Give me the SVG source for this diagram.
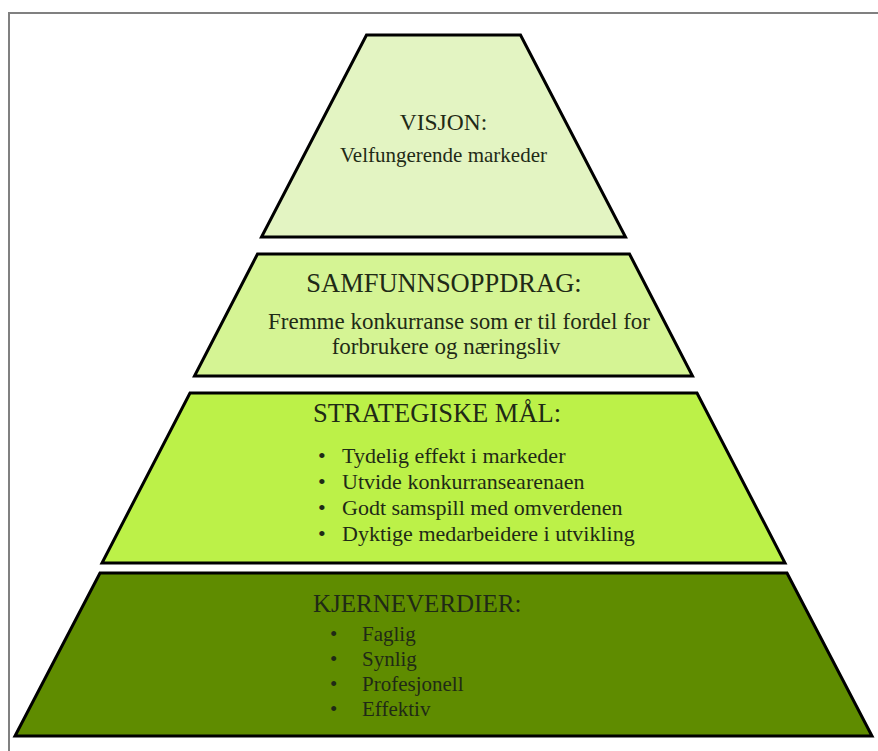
<svg xmlns="http://www.w3.org/2000/svg" width="878" height="751" viewBox="0 0 878 751">
<style>
.tier{stroke:#000;stroke-width:3;stroke-linejoin:miter}
.h{font-family:"Liberation Serif","Times New Roman",serif;font-size:26.5px;fill:#1f2a16}
.b{font-family:"Liberation Serif","Times New Roman",serif;font-size:22px;fill:#1f2a16}
</style>
<rect width="878" height="751" fill="#fff"/>
<path d="M9 751 V13 H878" fill="none" stroke="#808080" stroke-width="2"/>
<g id="visjon">
<polygon class="tier" points="366.5,35 520.5,35 625.5,237 261.5,237" fill="#e3f4c2"/>
<text class="h" x="443.5" y="130" text-anchor="middle" style="font-size:23.5px">VISJON:</text>
<text class="b" x="443.5" y="162" text-anchor="middle" style="font-size:21px">Velfungerende markeder</text>
</g>
<g id="samfunnsoppdrag">
<polygon class="tier" points="257.5,254 629.5,254 692.5,376 194.5,376" fill="#d5f494"/>
<text class="h" x="444" y="292" text-anchor="middle">SAMFUNNSOPPDRAG:</text>
<text class="b" x="459" y="329" text-anchor="middle" style="font-size:23px">Fremme konkurranse som er til fordel for</text>
<text class="b" x="446" y="354" text-anchor="middle" style="font-size:23px">forbrukere og næringsliv</text>
</g>
<g id="strategiske-maal">
<polygon class="tier" points="190,393 697,393 785,563 102,563" fill="#bcf148"/>
<text class="h" x="313" y="422">STRATEGISKE MÅL:</text>
<g class="b">
<text x="318" y="463">•</text><text x="342" y="463">Tydelig effekt i markeder</text>
<text x="318" y="489">•</text><text x="342" y="489">Utvide konkurransearenaen</text>
<text x="318" y="515">•</text><text x="342" y="515">Godt samspill med omverdenen</text>
<text x="318" y="541">•</text><text x="342" y="541">Dyktige medarbeidere i utvikling</text>
</g>
</g>
<g id="kjerneverdier">
<polygon class="tier" points="100,573 787,573 872,736 15,736" fill="#5f8c00"/>
<text class="h" x="313" y="612" style="font-size:25px">KJERNEVERDIER:</text>
<g class="b" style="font-size:21px">
<text x="330" y="641">•</text><text x="362" y="641">Faglig</text>
<text x="330" y="666">•</text><text x="362" y="666">Synlig</text>
<text x="330" y="691">•</text><text x="362" y="691">Profesjonell</text>
<text x="330" y="716">•</text><text x="362" y="716">Effektiv</text>
</g>
</g>
<g id="connectors"/>
</svg>
